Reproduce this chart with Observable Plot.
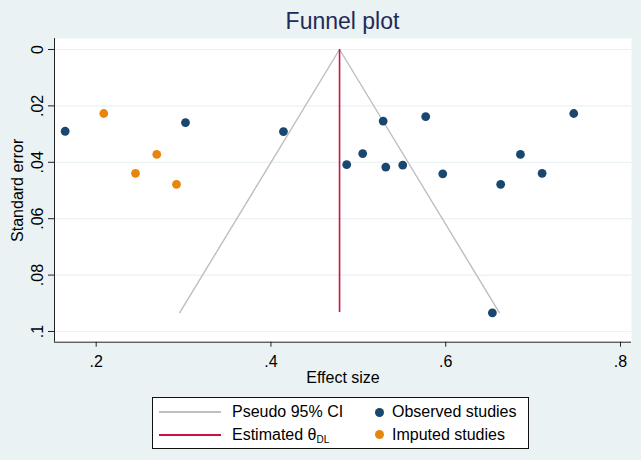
<!DOCTYPE html>
<html><head><meta charset="utf-8">
<script src="https://cdn.jsdelivr.net/npm/d3@7"></script>
<script src="https://cdn.jsdelivr.net/npm/@observablehq/plot@0.6"></script>
<style>
body{margin:0;background:#EAF2F3;font-family:"Liberation Sans",Arial,sans-serif;}
#wrap{position:relative;width:641px;height:460px;overflow:hidden;}
#title{position:absolute;left:54px;width:577px;top:7px;text-align:center;font-size:23px;color:#1E2B58;line-height:28px;}
#legend{position:absolute;left:152px;top:397px;width:375px;height:50px;border:1px solid #111;background:#fff;box-sizing:content-box;font-size:16px;color:#000;}
.row{position:absolute;line-height:20px;white-space:nowrap;}
.ln{position:absolute;height:2px;width:62px;}
.dt{position:absolute;width:9px;height:9px;border-radius:50%;}
sub{font-size:10px;vertical-align:-3px;}
</style></head><body><div id="wrap"><div id="title">Funnel plot</div></div>
<script>
const observedEffect = [0.1645, 0.3022, 0.4143, 0.4867, 0.5050, 0.5284, 0.5314, 0.5508, 0.5771, 0.5966, 0.6629, 0.6855, 0.7103, 0.7465, 0.6534];
const observedSE     = [0.0290, 0.0259, 0.0291, 0.0408, 0.0369, 0.0254, 0.0417, 0.0410, 0.0238, 0.0441, 0.0478, 0.0372, 0.0439, 0.0227, 0.0934];
const imputedEffect  = [0.2087, 0.2693, 0.2450, 0.2919];
const imputedSE      = [0.0227, 0.0372, 0.0439, 0.0478];
const thetaDL = 0.4785;
const seMax = 0.0933;
const xTicks = [0.2, 0.4, 0.6, 0.8];
const xTickLabels = [".2", ".4", ".6", ".8"];
const yTicks = [0, 0.02, 0.04, 0.06, 0.08, 0.1];
const yTickLabels = ["0", ".02", ".04", ".06", ".08", ".1"];
const xDomain = [0.1523, 0.8126];
const yDomain = [-0.0039, 0.1038];

const observed = observedEffect.map((x, i) => ({x, y: observedSE[i]}));
const imputed = imputedEffect.map((x, i) => ({x, y: imputedSE[i]}));
const ci = [
  {x: thetaDL - 1.96 * seMax, y: seMax},
  {x: thetaDL, y: 0},
  {x: thetaDL + 1.96 * seMax, y: seMax}
];

const chart = Plot.plot({
  width: 641, height: 460,
  marginLeft: 54, marginRight: 10, marginTop: 38, marginBottom: 118.3,
  style: {background: "transparent", fontFamily: "Liberation Sans, Arial, sans-serif"},
  x: {domain: xDomain},
  y: {domain: yDomain, reverse: true},
  marks: [
    Plot.frame({fill: "white", stroke: "none"}),
    Plot.ruleY(yTicks, {stroke: "#EAF2F3", strokeWidth: 1.2}),
    Plot.line(ci, {x: "x", y: "y", stroke: "#BEBEBE", strokeWidth: 1.4}),
    Plot.ruleX([thetaDL], {y1: 0, y2: seMax, stroke: "#CC1140", strokeWidth: 1.6}),
    Plot.dot(observed, {x: "x", y: "y", r: 4.4, fill: "#1A476F", stroke: "none"}),
    Plot.dot(imputed, {x: "x", y: "y", r: 4.4, fill: "#E8860C", stroke: "none"}),
    Plot.ruleX([xDomain[0]], {stroke: "#222", strokeWidth: 1}),
    Plot.ruleY([yDomain[1]], {stroke: "#222", strokeWidth: 1}),
    Plot.axisX({ticks: xTicks, tickSize: 5, tickFormat: () => "", label: null, stroke: "#222"}),
    Plot.axisY({ticks: yTicks, tickSize: 6, tickFormat: () => "", label: null, stroke: "#222"}),
    Plot.text(xTicks, {x: d => d, y: () => yDomain[1], text: (d, i) => xTickLabels[i], dy: 20, lineAnchor: "middle", fontSize: 16, fill: "#000"}),
    Plot.text(yTicks, {x: () => xDomain[0], y: d => d, text: (d, i) => yTickLabels[i], rotate: -90, dx: -17, textAnchor: "middle", lineAnchor: "middle", fontSize: 16, fill: "#000"}),
    Plot.text(["Effect size"], {frameAnchor: "bottom", dy: 36, textAnchor: "middle", lineAnchor: "middle", fontSize: 16, fill: "#000"}),
    Plot.text(["Standard error"], {frameAnchor: "left", dx: -37, rotate: -90, textAnchor: "middle", lineAnchor: "middle", fontSize: 16, fill: "#000"})
  ]
});
chart.style.position = "absolute";
chart.style.left = "0px";
chart.style.top = "0px";
const wrap = document.getElementById("wrap");
wrap.insertBefore(chart, wrap.firstChild);

const legend = document.createElement("div");
legend.id = "legend";
legend.innerHTML = `
  <div class="ln" style="left:6px;top:13px;background:#BEBEBE;"></div>
  <div class="row" style="left:79px;top:4px;">Pseudo 95% CI</div>
  <div class="ln" style="left:6px;top:36px;background:#CC1140;"></div>
  <div class="row" style="left:79px;top:27px;">Estimated θ<sub>DL</sub></div>
  <div class="dt" style="left:222px;top:10px;background:#1A476F;"></div>
  <div class="row" style="left:239px;top:4px;">Observed studies</div>
  <div class="dt" style="left:222px;top:32px;background:#E8860C;"></div>
  <div class="row" style="left:239px;top:27px;">Imputed studies</div>`;
wrap.appendChild(legend);
</script>
</body></html>
